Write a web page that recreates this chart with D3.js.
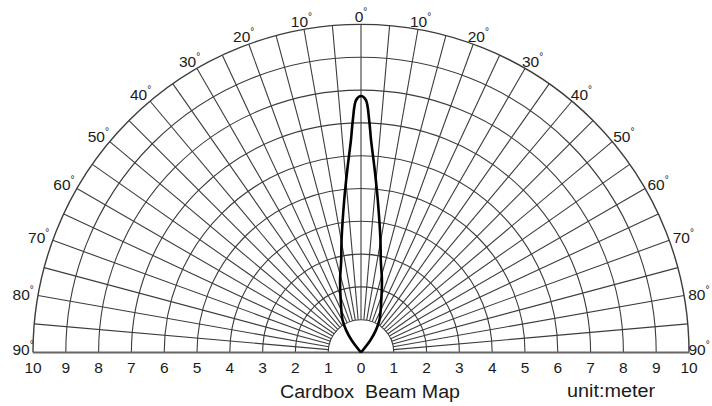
<!DOCTYPE html>
<html>
<head>
<meta charset="utf-8">
<script src="https://cdn.jsdelivr.net/npm/d3@7"></script>
<style>
  html, body { margin: 0; padding: 0; background: #fff; }
  svg { display: block; font-family: "Liberation Sans", Arial, sans-serif; }
</style>
</head>
<body>
<div id="chart"></div>
<script>
// grid: distance rings (meters) and spoke angles (degrees)
const ringDistances = [1, 2, 3, 4, 5, 6, 7, 8, 9, 10];
const spokeAngles = d3.range(-90, 91, 5);
const angleLabels = [-90, -80, -70, -60, -50, -40, -30, -20, -10, 0, 10, 20, 30, 40, 50, 60, 70, 80, 90];
const distanceLabels = [-10, -9, -8, -7, -6, -5, -4, -3, -2, -1, 0, 1, 2, 3, 4, 5, 6, 7, 8, 9, 10];

// beam outline, one half (symmetric), angle in degrees from the axis, distance in meters
const beamAngle = [0, 1.1, 2.0, 2.7, 4.3, 6.3, 9.8, 12.2, 16.1, 21.1, 29.6, 33.7, 37.2, 40];
const beamDist  = [7.82, 7.70, 7.10, 6.49, 5.58, 4.67, 3.48, 2.86, 2.30, 1.72, 1.14, 0.82, 0.48, 0];

const title = "Cardbox  Beam Map";
const unitText = "unit:meter";

const width = 712, height = 406;
const cx = 361, cy = 352.5;
const maxR = 328;

const svg = d3.select('#chart').append('svg')
    .attr('width', width)
    .attr('height', height);

const r = d3.scaleLinear().domain([0, 10]).range([0, maxR]);
const rad = d => d * Math.PI / 180;

const g = svg.append('g').attr('transform', `translate(${cx},${cy})`);
const gridColor = '#3c3c3c';

// spokes from ring 1 to ring 10
g.selectAll('line.spoke')
    .data(spokeAngles)
    .enter().append('line')
    .attr('class', 'spoke')
    .attr('x1', d => r(1) * Math.sin(rad(d)))
    .attr('y1', d => -r(1) * Math.cos(rad(d)))
    .attr('x2', d => r(10) * Math.sin(rad(d)))
    .attr('y2', d => -r(10) * Math.cos(rad(d)))
    .attr('stroke', gridColor)
    .attr('stroke-width', 1.1);

// distance rings (half circles)
const ringArc = d3.arc()
    .innerRadius(d => r(d))
    .outerRadius(d => r(d))
    .startAngle(-Math.PI / 2)
    .endAngle(Math.PI / 2);

g.selectAll('path.ring')
    .data(ringDistances)
    .enter().append('path')
    .attr('class', 'ring')
    .attr('d', ringArc)
    .attr('fill', 'none')
    .attr('stroke', gridColor)
    .attr('stroke-width', d => d === 10 ? 1.4 : 1.1);

// baseline
g.append('line')
    .attr('x1', -r(10)).attr('x2', r(10))
    .attr('y1', 0).attr('y2', 0)
    .attr('stroke', '#666')
    .attr('stroke-width', 2);

// beam
const beamHalf = beamAngle.map((a, i) => ({a: a, d: beamDist[i]}));
const beamPts = beamHalf.slice().reverse().map(p => ({a: -p.a, d: p.d}))
    .concat(beamHalf.slice(1));

const beamLine = d3.lineRadial()
    .angle(p => rad(p.a))
    .radius(p => r(p.d))
    .curve(d3.curveCatmullRom.alpha(0.5));

g.append('path')
    .attr('d', beamLine(beamPts))
    .attr('fill', 'none')
    .attr('stroke', '#000')
    .attr('stroke-width', 2.6)
    .attr('stroke-linejoin', 'round');

// angle labels
const lab = g.selectAll('text.angle')
    .data(angleLabels)
    .enter().append('text')
    .attr('class', 'angle')
    .attr('x', d => (Math.abs(d) === 90 ? 338 : 343) * Math.sin(rad(d)))
    .attr('y', d => -337 * Math.cos(rad(d)) + (Math.abs(d) === 90 ? -4 : 0))
    .attr('text-anchor', 'middle')
    .attr('dominant-baseline', 'central')
    .attr('font-size', 15.5)
    .attr('fill', '#1a1a1a');
lab.append('tspan').text(d => Math.abs(d));
lab.append('tspan')
    .attr('font-size', 10)
    .attr('dy', -5)
    .text('°');

// distance labels along the baseline
const xScale = d3.scaleLinear().domain([-10, 10]).range([-r(10), r(10)]);
g.selectAll('text.dist')
    .data(distanceLabels)
    .enter().append('text')
    .attr('class', 'dist')
    .attr('x', d => xScale(d))
    .attr('y', 20)
    .attr('text-anchor', 'middle')
    .attr('font-size', 15.5)
    .attr('fill', '#1a1a1a')
    .text(d => Math.abs(d));

// title and unit
svg.append('text')
    .attr('x', 370).attr('y', 398)
    .attr('text-anchor', 'middle')
    .attr('font-size', 18)
    .attr('fill', '#1a1a1a')
    .attr('textLength', 180)
    .attr('lengthAdjust', 'spacingAndGlyphs')
    .attr('xml:space', 'preserve')
    .style('white-space', 'pre')
    .text(title);

svg.append('text')
    .attr('x', 611).attr('y', 397)
    .attr('text-anchor', 'middle')
    .attr('font-size', 18)
    .attr('fill', '#1a1a1a')
    .attr('textLength', 88)
    .attr('lengthAdjust', 'spacingAndGlyphs')
    .text(unitText);
</script>
</body>
</html>
